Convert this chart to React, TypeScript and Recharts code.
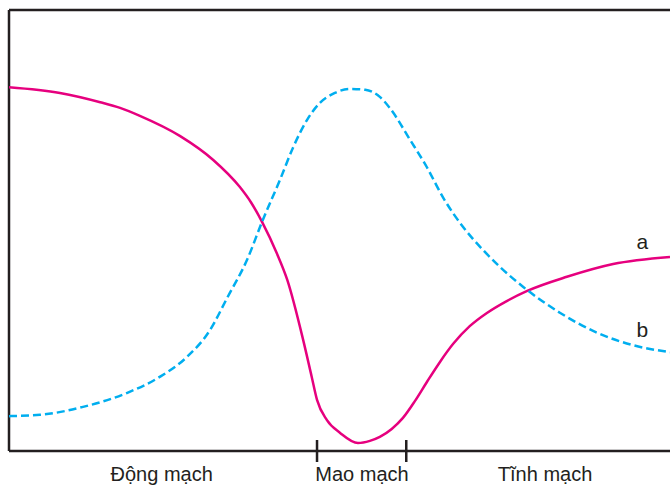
import React from 'react';
import { LineChart, Line, XAxis, YAxis, ReferenceDot, ReferenceLine } from 'recharts';

// curve a (solid, magenta)
const aX = [0, 7.7, 13.8, 16.8, 19.8, 25.9, 30.9, 34.9, 36.6, 38.3, 40.5, 42.1, 44.5, 45.8, 46.6, 48.1, 50.1, 52.8, 54.6, 56.1, 57.9, 59.6, 61.4, 63.2, 65.2, 67.2, 69.7, 72.3, 75.3, 78.4, 84.4, 91.4, 100];
const aY = [82.5, 81.2, 79.1, 77.8, 76.0, 71.4, 66.0, 59.9, 56.4, 51.9, 44.9, 38.8, 25.2, 16.8, 11.6, 7.0, 4.1, 1.8, 2.3, 3.2, 5.0, 7.5, 11.3, 15.6, 20.2, 24.3, 28.3, 31.3, 34.0, 36.3, 39.5, 42.4, 44.0];

// curve b (dashed, blue)
const bX = [0, 4.7, 11.2, 17.9, 22.8, 26.9, 30.4, 33.0, 36.0, 38.4, 41.0, 43.0, 45.1, 47.0, 49.3, 51.6, 53.9, 56.1, 57.6, 60.7, 63.2, 65.7, 68.7, 71.7, 74.3, 77.8, 83.4, 89.0, 94.4, 100];
const bY = [7.9, 8.2, 10.0, 13.2, 16.8, 21.3, 27.4, 34.7, 43.3, 52.4, 61.5, 68.9, 75.1, 78.9, 81.2, 82.1, 81.9, 80.3, 77.8, 70.5, 64.4, 57.4, 50.8, 45.6, 41.7, 37.2, 31.3, 26.8, 24.0, 22.4];

// segment boundaries on the x axis and the section names between them
const boundaries = [46.6, 60.1];
const sectionPos = [23.1, 53.4, 81.1];
const sectionNames = ['Động mạch', 'Mao mạch', 'Tĩnh mạch'];

const dataA = aX.map((x, i) => ({ x, v: aY[i] }));
const dataB = bX.map((x, i) => ({ x, v: bY[i] }));

const FONT = '"Liberation Sans", Arial, sans-serif';
const INK = '#231f20';

const SectionTick = (props: any) => {
  const { x, y, payload } = props;
  const idx = sectionPos.indexOf(payload.value);
  if (idx < 0) {
    return <line x1={x} x2={x} y1={y - 11} y2={y + 11} stroke={INK} strokeWidth={2.5} />;
  }
  return (
    <text x={x} y={y + 30} textAnchor="middle" fontSize={20} fontFamily={FONT} fill={INK}>
      {sectionNames[idx]}
    </text>
  );
};

export default function App() {
  return (
    <div style={{ position: 'absolute', left: 0, top: 0, width: 670, height: 485, background: '#fff' }}>
      <LineChart width={670} height={485} margin={{ top: 10, right: 0, left: 9, bottom: 0 }}>
        <XAxis
          type="number"
          dataKey="x"
          domain={[0, 100]}
          ticks={[sectionPos[0], boundaries[0], sectionPos[1], boundaries[1], sectionPos[2]]}
          tick={<SectionTick />}
          tickLine={false}
          tickSize={0}
          tickMargin={0}
          height={34}
          axisLine={{ stroke: INK, strokeWidth: 2.5 }}
          allowDataOverflow
        />
        <YAxis type="number" domain={[0, 100]} width={0} hide />
        <ReferenceLine x={0} stroke={INK} strokeWidth={2.5} ifOverflow="visible" />
        <ReferenceLine y={100} stroke={INK} strokeWidth={2.5} ifOverflow="visible" />
        <Line
          data={dataA}
          dataKey="v"
          type="monotone"
          stroke="#e6007e"
          strokeWidth={2.5}
          dot={false}
          isAnimationActive={false}
        />
        <Line
          data={dataB}
          dataKey="v"
          type="monotone"
          stroke="#00aeef"
          strokeWidth={2.5}
          strokeDasharray="8 4"
          dot={false}
          isAnimationActive={false}
        />
        <ReferenceDot x={95.8} y={47.6} r={0} fill="none" stroke="none"
          label={{ value: 'a', position: 'center', fontSize: 21, fontFamily: FONT, fill: INK }} />
        <ReferenceDot x={95.8} y={27.6} r={0} fill="none" stroke="none"
          label={{ value: 'b', position: 'center', fontSize: 21, fontFamily: FONT, fill: INK }} />
      </LineChart>
    </div>
  );
}
